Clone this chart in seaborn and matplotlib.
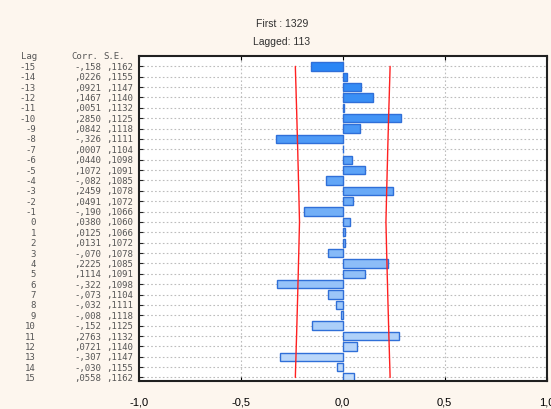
import numpy as np
import pandas as pd
import seaborn as sns
import matplotlib.pyplot as plt
import matplotlib.ticker as ticker
import matplotlib.transforms as mtransforms

lags = list(range(-15, 16))
corr = [-0.158, 0.0226, 0.0921, 0.1467, 0.0051, 0.2850, 0.0842, -0.326,
        0.0007, 0.0440, 0.1072, -0.082, 0.2459, 0.0491, -0.190, 0.0380,
        0.0125, 0.0131, -0.070, 0.2225, 0.1114, -0.322, -0.073, -0.032,
        -0.008, -0.152, 0.2763, 0.0721, -0.307, -0.030, 0.0558]
se = [0.1162, 0.1155, 0.1147, 0.1140, 0.1132, 0.1125, 0.1118, 0.1111,
      0.1104, 0.1098, 0.1091, 0.1085, 0.1078, 0.1072, 0.1066, 0.1060,
      0.1066, 0.1072, 0.1078, 0.1085, 0.1091, 0.1098, 0.1104, 0.1111,
      0.1118, 0.1125, 0.1132, 0.1140, 0.1147, 0.1155, 0.1162]
first_n = 1329
lagged_n = 113


def stat_fmt(v):
  # statistica style: ",0226" / "-,158"
  if v < 0:
    return '-,' + f'{abs(v):.3f}'[2:]
  return ',' + f'{v:.4f}'[2:]


df = pd.DataFrame({'lag': [str(l) for l in lags], 'corr': corr, 'se': se})

sns.set_style('white')
plt.rcParams['font.family'] = ['Liberation Sans', 'DejaVu Sans']

f = plt.figure(figsize=(5.51, 4.10), dpi=100, facecolor='#fdf6ee')
ax = f.add_axes([0.252, 0.068, 0.740, 0.793])

colors = sns.blend_palette(['#2a86f5', '#c4ddfa'], n_colors=len(lags))
sns.barplot(data=df, x='corr', y='lag', hue='lag', palette=colors,
            order=df['lag'], legend=False, orient='h', width=0.8,
            saturation=1, edgecolor='#2f6fd8', linewidth=1.0, ax=ax)

pos = np.arange(len(lags))
ax.plot(2 * df['se'], pos, color='#ff2020', lw=1.0)
ax.plot(-2 * df['se'], pos, color='#ff2020', lw=1.0)

ax.set_xlim(-1, 1)
ax.set_ylim(len(lags) - 0.65, -1.0)
ax.set_xticks([-1, -0.5, 0, 0.5, 1])
ax.xaxis.set_major_formatter(
    ticker.FuncFormatter(lambda v, p: f'{v:.1f}'.replace('.', ',')))
ax.set_yticks(pos)
ax.set_yticklabels([])
ax.set_xlabel(None)
ax.set_ylabel(None)

for p in pos:
  ax.axhline(p, color='#bdbdbd', lw=0.8, ls=(0, (1.5, 2)), zorder=0)
for xv in [-0.5, 0, 0.5]:
  ax.axvline(xv, color='#bdbdbd', lw=0.8, ls=(0, (1.5, 2)), zorder=0)

ax.tick_params(axis='x', direction='in', length=3, labelsize=8,
               top=True, bottom=True, pad=11, colors='black')
ax.tick_params(axis='y', direction='in', length=3, left=True)
for s in ax.spines.values():
  s.set_linewidth(1.5)
  s.set_color('#202020')

# table of values on the left
trans = mtransforms.blended_transform_factory(f.transFigure, ax.transData)
fx = lambda px: px / 551
tfont = dict(family='DejaVu Sans Mono', fontsize=6.5, color='#555555',
             va='center', transform=trans)
ax.text(fx(21), -1.0, 'Lag', ha='left', **tfont)
ax.text(fx(98), -1.0, 'Corr.', ha='right', **tfont)
ax.text(fx(103), -1.0, 'S.E.', ha='left', **tfont)
for i, row in df.iterrows():
  ax.text(fx(36), i, row['lag'], ha='right', **tfont)
  ax.text(fx(101), i, stat_fmt(row['corr']), ha='right', **tfont)
  ax.text(fx(133), i, stat_fmt(row['se']), ha='right', **tfont)

f.text(282 / 551, 1 - 24 / 410, f'First : {first_n}', ha='center',
       va='center', fontsize=7.5, color='#303030')
f.text(282 / 551, 1 - 42 / 410, f'Lagged: {lagged_n}', ha='center',
       va='center', fontsize=7.5, color='#303030')

plt.savefig('out.png', dpi=100, facecolor=f.get_facecolor())
